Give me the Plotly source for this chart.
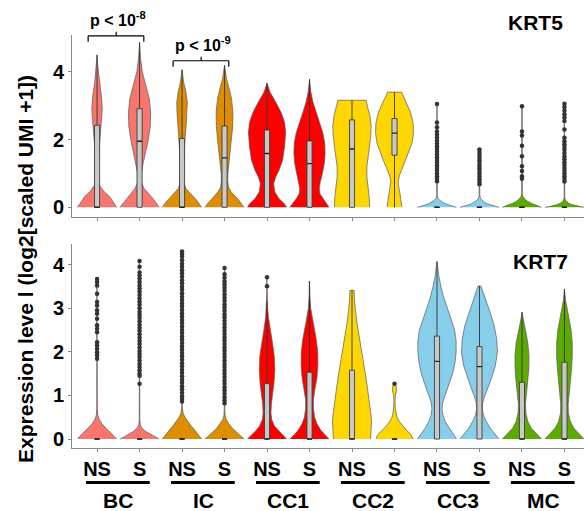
import plotly.graph_objects as go

# ---------------- data ----------------
groups = ["BC", "IC", "CC1", "CC2", "CC3", "MC"]
conditions = ["NS", "S"]
group_colors = ["#F8766D", "#DE8C00", "#FF0000", "#FFD700", "#87CEEB", "#5DAA00"]
tick_labels = ["NS", "S", "NS", "S", "NS", "S", "NS", "S", "NS", "S", "NS", "S"]

# KRT5 violin profiles: expression levels and relative widths (max = 1)
krt5_levels = [
    [0, 0.1, 0.2, 0.33, 0.45, 0.55, 0.65, 0.8, 1.0, 1.5, 2.0, 2.5, 2.9, 3.3, 3.7, 4.1, 4.5],
    [0, 0.1, 0.2, 0.33, 0.45, 0.55, 0.7, 0.85, 1.0, 1.3, 1.6, 2.0, 2.4, 2.8, 3.2, 3.6, 4.0, 4.4, 4.87],
    [0, 0.1, 0.2, 0.33, 0.45, 0.55, 0.7, 0.9, 1.2, 1.6, 2.0, 2.4, 2.8, 3.1, 3.4, 3.7, 4.06],
    [0, 0.1, 0.2, 0.33, 0.45, 0.6, 0.8, 1.0, 1.3, 1.6, 2.0, 2.4, 2.8, 3.2, 3.5, 3.8, 4.19],
    [0, 0.1, 0.25, 0.45, 0.7, 0.9, 1.1, 1.4, 1.8, 2.2, 2.5, 2.8, 3.1, 3.4, 3.67],
    [0, 0.1, 0.25, 0.4, 0.55, 0.75, 1.0, 1.3, 1.6, 1.9, 2.2, 2.5, 2.8, 3.1, 3.4, 3.78],
    [0, 0.3, 0.6, 0.9, 1.2, 1.5, 1.8, 2.1, 2.4, 2.7, 2.95, 3.16],
    [0, 0.2, 0.4, 0.6, 0.77, 0.95, 1.15, 1.35, 1.6, 1.9, 2.2, 2.5, 2.8, 3.1, 3.3, 3.4],
    [0, 0.05, 0.1, 0.15, 0.2, 0.27, 0.35, 3.05],
    [0, 0.05, 0.1, 0.15, 0.2, 0.27, 0.35, 1.71],
    [0, 0.06, 0.12, 0.18, 0.25, 0.32, 0.4, 2.98],
    [0, 0.04, 0.08, 0.12, 0.17, 0.22, 0.3, 3.06],
]
krt5_widths = [
    [1.0, 0.9, 0.78, 0.62, 0.38, 0.24, 0.13, 0.07, 0.06, 0.08, 0.14, 0.22, 0.27, 0.22, 0.12, 0.05, 0.0],
    [1.0, 0.9, 0.76, 0.58, 0.38, 0.24, 0.12, 0.09, 0.1, 0.18, 0.3, 0.45, 0.55, 0.57, 0.5, 0.32, 0.14, 0.05, 0.0],
    [1.0, 0.9, 0.76, 0.56, 0.35, 0.2, 0.1, 0.06, 0.07, 0.1, 0.15, 0.21, 0.26, 0.27, 0.2, 0.08, 0.0],
    [1.0, 0.88, 0.74, 0.54, 0.34, 0.2, 0.16, 0.17, 0.22, 0.28, 0.36, 0.42, 0.43, 0.36, 0.24, 0.1, 0.0],
    [1.0, 0.9, 0.62, 0.4, 0.34, 0.45, 0.62, 0.8, 0.9, 0.95, 0.9, 0.72, 0.45, 0.15, 0.0],
    [1.0, 0.88, 0.68, 0.53, 0.5, 0.55, 0.66, 0.76, 0.8, 0.78, 0.68, 0.52, 0.34, 0.18, 0.07, 0.0],
    [0.9, 0.88, 0.82, 0.76, 0.76, 0.82, 0.9, 0.96, 0.98, 0.92, 0.8, 0.72],
    [0.38, 0.34, 0.28, 0.22, 0.19, 0.26, 0.4, 0.55, 0.73, 0.9, 0.97, 0.95, 0.82, 0.6, 0.42, 0.36],
    [1.0, 0.7, 0.45, 0.28, 0.15, 0.05, 0.015, 0.01],
    [1.0, 0.68, 0.42, 0.26, 0.14, 0.05, 0.015, 0.01],
    [1.0, 0.72, 0.47, 0.28, 0.13, 0.05, 0.015, 0.01],
    [1.0, 0.65, 0.38, 0.22, 0.1, 0.04, 0.015, 0.01],
]
krt5_q1 = [0, 0, 0, 0, 0, 0, 0, 1.54, 0, 0, 0, 0]
krt5_median = [0, 1.95, 0, 1.46, 1.59, 1.29, 1.72, 2.19, 0, 0, 0, 0]
krt5_q3 = [2.42, 2.91, 2.03, 2.4, 2.28, 1.96, 2.58, 2.62, 0, 0, 0, 0]
krt5_whisker_hi = [4.5, 4.87, 4.06, 4.19, 3.67, 3.78, 3.16, 3.4, 0, 0, 0, 0]
krt5_outliers = [
    [], [], [], [], [], [], [], [],
    [3.05, 2.5, 2.36, 2.24, 2.15, 2.06, 1.97, 1.88, 1.8, 1.72, 1.64, 1.56, 1.48, 1.4,
     1.32, 1.24, 1.16, 1.08, 1.0, 0.92, 0.84, 0.77],
    [1.71, 1.63, 1.55, 1.47, 1.39, 1.31, 1.23, 1.15, 1.07, 0.99, 0.91, 0.83, 0.75, 0.68],
    [2.98, 2.24, 2.12, 1.82, 1.51, 1.21, 1.07, 0.92, 0.84],
    [3.06, 2.96, 2.85, 2.75, 2.65, 2.55, 2.3, 2.05, 1.95, 1.86, 1.78, 1.7, 1.6, 1.5,
     1.42, 1.33, 1.25, 1.16, 1.08, 1.0, 0.92, 0.84, 0.76],
]

# KRT7 violin profiles
krt7_levels = [
    [0, 0.08, 0.16, 0.25, 0.35, 0.45, 0.55, 0.7, 3.67],
    [0, 0.06, 0.12, 0.18, 0.25, 0.32, 0.45, 4.08],
    [0, 0.1, 0.2, 0.3, 0.4, 0.5, 0.6, 0.75, 4.3],
    [0, 0.08, 0.16, 0.25, 0.35, 0.45, 0.55, 0.7, 3.92],
    [0, 0.1, 0.2, 0.3, 0.45, 0.6, 0.8, 1.0, 1.3, 1.6, 1.9, 2.2, 2.5, 2.8, 3.0, 3.3, 3.71],
    [0, 0.1, 0.2, 0.35, 0.5, 0.7, 0.9, 1.1, 1.4, 1.7, 2.0, 2.3, 2.6, 2.8, 3.0, 3.3, 3.62],
    [0, 0.2, 0.4, 0.6, 0.9, 1.2, 1.5, 1.8, 2.1, 2.4, 2.7, 3.0, 3.2, 3.41],
    [0, 0.1, 0.2, 0.3, 0.4, 0.5, 0.6, 0.7, 0.85, 1.0, 1.08, 1.15, 1.22, 1.27],
    [0, 0.1, 0.25, 0.4, 0.55, 0.7, 0.85, 1.0, 1.25, 1.5, 1.75, 2.0, 2.25, 2.5, 2.75, 3.0, 3.25, 3.5, 3.75, 4.07],
    [0, 0.1, 0.25, 0.4, 0.55, 0.7, 0.85, 1.0, 1.2, 1.4, 1.7, 2.0, 2.3, 2.6, 2.9, 3.2, 3.4, 3.51],
    [0, 0.1, 0.25, 0.4, 0.6, 0.8, 1.0, 1.3, 1.6, 1.9, 2.2, 2.4, 2.6, 2.75, 2.91],
    [0, 0.1, 0.25, 0.4, 0.6, 0.8, 1.0, 1.3, 1.6, 1.9, 2.2, 2.5, 2.8, 3.0, 3.2, 3.44],
]
krt7_widths = [
    [1.0, 0.85, 0.66, 0.45, 0.25, 0.11, 0.04, 0.015, 0.01],
    [1.0, 0.75, 0.5, 0.3, 0.13, 0.04, 0.015, 0.01],
    [1.0, 0.85, 0.66, 0.47, 0.3, 0.15, 0.05, 0.015, 0.01],
    [1.0, 0.8, 0.6, 0.4, 0.22, 0.08, 0.03, 0.015, 0.01],
    [1.0, 0.78, 0.55, 0.38, 0.24, 0.2, 0.22, 0.28, 0.36, 0.4, 0.37, 0.28, 0.16, 0.07, 0.03, 0.015, 0.01],
    [1.0, 0.78, 0.58, 0.38, 0.26, 0.2, 0.2, 0.26, 0.38, 0.43, 0.42, 0.34, 0.22, 0.13, 0.06, 0.02, 0.01],
    [0.95, 0.99, 1.0, 0.96, 0.88, 0.78, 0.68, 0.58, 0.47, 0.35, 0.24, 0.16, 0.12, 0.11],
    [0.95, 0.85, 0.62, 0.42, 0.25, 0.13, 0.07, 0.04, 0.03, 0.04, 0.09, 0.11, 0.08, 0.0],
    [1.0, 0.85, 0.6, 0.42, 0.3, 0.26, 0.3, 0.42, 0.62, 0.8, 0.92, 0.98, 0.98, 0.9, 0.72, 0.52, 0.34, 0.2, 0.09, 0.0],
    [1.0, 0.82, 0.55, 0.35, 0.2, 0.14, 0.17, 0.28, 0.45, 0.62, 0.82, 0.92, 0.88, 0.75, 0.55, 0.32, 0.15, 0.07],
    [1.0, 0.78, 0.48, 0.3, 0.2, 0.18, 0.22, 0.3, 0.35, 0.36, 0.3, 0.22, 0.12, 0.05, 0.0],
    [1.0, 0.78, 0.48, 0.3, 0.2, 0.19, 0.22, 0.3, 0.36, 0.4, 0.4, 0.34, 0.22, 0.13, 0.05, 0.0],
]
krt7_q1 = [0, 0, 0, 0, 0, 0, 0, 0, 0, 0, 0, 0]
krt7_median = [0, 0, 0, 0, 0, 0, 0, 0, 1.78, 1.66, 0, 0]
krt7_q3 = [0, 0, 0, 0, 1.27, 1.53, 1.58, 0, 2.36, 2.12, 1.3, 1.76]
krt7_whisker_hi = [0, 0, 0, 0, 3.15, 3.62, 3.41, 0, 4.07, 3.51, 2.91, 3.44]
krt7_outliers = [
    [3.67, 3.6, 3.52, 3.33, 3.14, 3.06, 2.95, 2.87, 2.76, 2.61, 2.53, 2.45, 2.22, 2.15,
     2.07, 1.99, 1.92, 1.84],
    [4.08, 3.95, 3.82, 3.75, 3.68, 3.6, 3.52, 3.45, 3.38, 3.3, 3.22, 3.15, 3.08, 3.0,
     2.92, 2.85, 2.78, 2.7, 2.62, 2.55, 2.48, 2.4, 2.32, 2.25, 2.18, 2.1, 2.02, 1.95,
     1.88, 1.8, 1.72, 1.65, 1.58, 1.5, 1.45, 1.27],
    [4.3, 4.24, 4.18, 4.1, 4.02, 3.95, 3.87, 3.8, 3.72, 3.64, 3.57, 3.49, 3.42, 3.34,
     3.26, 3.19, 3.11, 3.04, 2.96, 2.88, 2.81, 2.73, 2.66, 2.58, 2.5, 2.43, 2.35, 2.28,
     2.2, 2.12, 2.05, 1.97, 1.9, 1.82, 1.74, 1.67, 1.59, 1.52, 1.44, 1.36, 1.29, 1.21,
     1.14, 1.06, 0.98, 0.92, 0.86],
    [3.92, 3.78, 3.7, 3.62, 3.55, 3.47, 3.4, 3.32, 3.24, 3.17, 3.09, 3.02, 2.94, 2.86,
     2.79, 2.71, 2.64, 2.56, 2.48, 2.41, 2.33, 2.26, 2.18, 2.1, 2.03, 1.95, 1.88, 1.8,
     1.72, 1.65, 1.57, 1.5, 1.42, 1.34, 1.27, 1.19, 1.12, 1.04, 0.96, 0.89, 0.82],
    [3.71, 3.5],
    [], [], [1.27], [], [], [], [],
]

krt5_ticks = [0, 2, 4]
krt7_ticks = [0, 1, 2, 3, 4]

# ---------------- styling ----------------
FONT = "Liberation Sans, Arial, sans-serif"
HALF = 0.46          # max half-width of a violin (category units)
BOX_HALF = 0.06
W, H = 584, 511
positions = list(range(len(tick_labels)))
violin_colors = [group_colors[i // 2] for i in positions]


def px_y(py):
    return (H - py) / H


fig = go.Figure()


def add_panel(levels, widths, q1, med, q3, hi, outliers, xa, ya):
    common = dict(xaxis=xa, yaxis=ya, showlegend=False, hoverinfo="skip")
    # violins
    for p, lv, wd, col in zip(positions, levels, widths, violin_colors):
        xs = [p + HALF * w for w in wd] + [p - HALF * w for w in reversed(wd)]
        ys = list(lv) + list(reversed(lv))
        fig.add_trace(go.Scatter(x=xs, y=ys, mode="lines", fill="toself", fillcolor=col,
                                 line=dict(color="#5a5a5a", width=0.7), **common))
    # box plots (whiskers, box, median)
    for p, a, m, b, h in zip(positions, q1, med, q3, hi):
        fig.add_trace(go.Scatter(x=[p, p, None, p, p], y=[0, a, None, b, h], mode="lines",
                                 line=dict(color="#333333", width=0.9), **common))
        fig.add_trace(go.Scatter(
            x=[p - BOX_HALF, p + BOX_HALF, p + BOX_HALF, p - BOX_HALF, p - BOX_HALF],
            y=[a, a, b, b, a], mode="lines", fill="toself", fillcolor="#C8C8C8",
            line=dict(color="#3c3c3c", width=0.9), **common))
        fig.add_trace(go.Scatter(x=[p - BOX_HALF, p + BOX_HALF], y=[m, m], mode="lines",
                                 line=dict(color="#222222", width=1.4), **common))
    # outliers
    for p, outs in zip(positions, outliers):
        if outs:
            fig.add_trace(go.Scatter(
                x=[p] * len(outs), y=outs, mode="markers",
                marker=dict(color="#333333", size=4.5, line=dict(width=0)), **common))


add_panel(krt5_levels, krt5_widths, krt5_q1, krt5_median, krt5_q3, krt5_whisker_hi,
          krt5_outliers, "x", "y")
add_panel(krt7_levels, krt7_widths, krt7_q1, krt7_median, krt7_q3, krt7_whisker_hi,
          krt7_outliers, "x2", "y2")

x_dom = [72 / W, 1.0]
x_rng = [-0.59, 11.46]
tickfont = dict(family=FONT, size=20, color="black", weight="bold")
axis_common = dict(showline=True, linecolor="#8a8a8a", linewidth=1, showgrid=False,
                   zeroline=False, ticks="outside", ticklen=3, tickcolor="#8a8a8a")

fig.update_layout(
    width=W, height=H, margin=dict(l=0, r=0, t=0, b=0),
    paper_bgcolor="white", plot_bgcolor="white", showlegend=False,
    xaxis=dict(domain=x_dom, range=x_rng, anchor="y", tickvals=positions,
               showticklabels=False, **axis_common),
    yaxis=dict(domain=[px_y(218), px_y(35)], range=[-0.29, 5.09], anchor="x",
               tickvals=krt5_ticks, tickfont=tickfont, **axis_common),
    xaxis2=dict(domain=x_dom, range=x_rng, anchor="y2", tickvals=positions,
                ticktext=tick_labels, tickfont=tickfont, **axis_common),
    yaxis2=dict(domain=[px_y(450), px_y(245)], range=[-0.21, 4.47], anchor="x2",
                tickvals=krt7_ticks, tickfont=tickfont, **axis_common),
)

bold = dict(family=FONT, color="black", weight="bold")
ann = []
ann.append(dict(text="KRT5", x=565 / W, y=px_y(22.5), xref="paper", yref="paper",
                xanchor="right", yanchor="middle", showarrow=False, font=dict(size=21, **bold)))
ann.append(dict(text="KRT7", x=570 / W, y=px_y(262.5), xref="paper", yref="paper",
                xanchor="right", yanchor="middle", showarrow=False, font=dict(size=21, **bold)))
ann.append(dict(text="Expression leve l (log2[scaled UMI +1])", x=26 / W, y=px_y(270),
                xref="paper", yref="paper", textangle=-90, xanchor="center",
                yanchor="middle", showarrow=False, font=dict(size=21, **bold)))

# p-value brackets
brackets = [
    ("p < 10<sup>-8</sup>", positions[0], positions[1], 36, 19),
    ("p < 10<sup>-9</sup>", positions[2], positions[3], 61, 44),
]
shapes = []
for txt, a, b, yb, yt in brackets:
    left, right, mid = a - 0.21, b + 0.1, (a + b) / 2 - 0.05
    shapes.append(dict(type="line", xref="x", yref="paper", x0=left, x1=right,
                       y0=px_y(yb), y1=px_y(yb), line=dict(color="black", width=1.2)))
    for xe in (left, right):
        shapes.append(dict(type="line", xref="x", yref="paper", x0=xe, x1=xe,
                           y0=px_y(yb), y1=px_y(yb + 6), line=dict(color="black", width=1.2)))
    shapes.append(dict(type="line", xref="x", yref="paper", x0=mid, x1=mid,
                       y0=px_y(yb), y1=px_y(yb - 4), line=dict(color="black", width=1.2)))
    ann.append(dict(text=txt, x=mid + 0.05, y=px_y(yt), xref="x", yref="paper",
                    xanchor="center", yanchor="middle", showarrow=False,
                    font=dict(size=16, **bold)))

# group underlines and labels
for gi, g in enumerate(groups):
    c = (positions[2 * gi] + positions[2 * gi + 1]) / 2
    shapes.append(dict(type="line", xref="x2", yref="paper", x0=c - 0.76, x1=c + 0.74,
                       y0=px_y(484.3), y1=px_y(484.3), line=dict(color="black", width=3)))
    ann.append(dict(text=g, x=c, y=px_y(502), xref="x2", yref="paper",
                    xanchor="center", yanchor="middle", showarrow=False,
                    font=dict(size=21, **bold)))

fig.update_layout(annotations=ann, shapes=shapes)
fig.write_html("out.html", config={"displayModeBar": False},
               post_script="document.body.style.margin='0';")
